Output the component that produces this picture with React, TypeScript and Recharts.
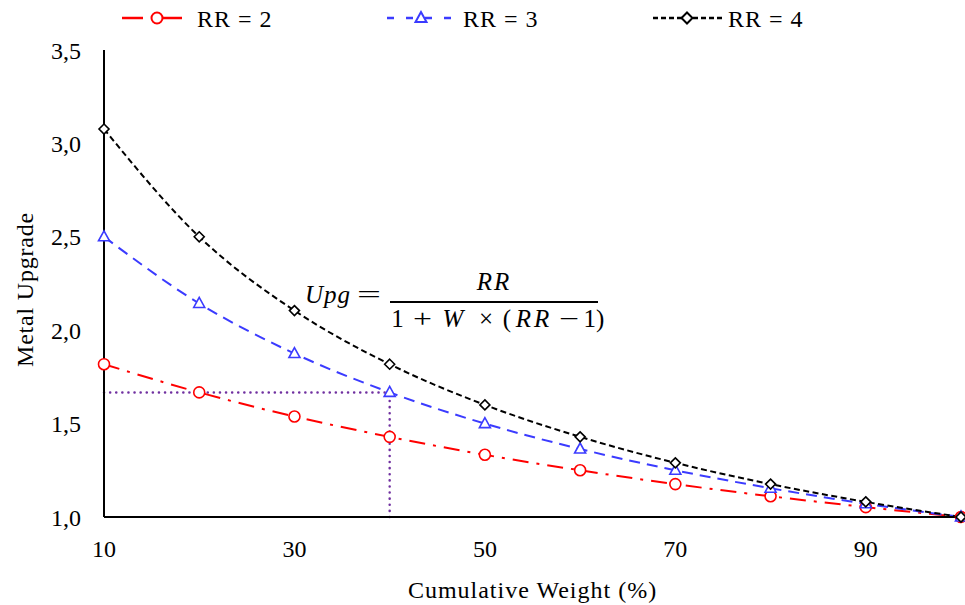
import React from "react";
import { LineChart, Line, XAxis, YAxis, ReferenceLine, Label } from "recharts";

const weights = [10, 20, 30, 40, 50, 60, 70, 80, 90, 100];
const rr2 = [1.818, 1.667, 1.538, 1.429, 1.333, 1.25, 1.176, 1.111, 1.053, 1.0];
const rr3 = [2.5, 2.143, 1.875, 1.667, 1.5, 1.364, 1.25, 1.154, 1.071, 1.0];
const rr4 = [3.077, 2.5, 2.105, 1.818, 1.6, 1.429, 1.29, 1.176, 1.081, 1.0];
const xTicks = [10, 30, 50, 70, 90];
const yTicks = [1.0, 1.5, 2.0, 2.5, 3.0, 3.5];
const seriesNames = ["RR = 2", "RR = 3", "RR = 4"];
const guideX = 40;
const guideY = 1.667;

const data = weights.map((w, i) => ({ w, rr2: rr2[i], rr3: rr3[i], rr4: rr4[i] }));

const FONT = "'Liberation Serif', 'Times New Roman', serif";
const RED = "#FF0000";
const BLUE = "#3B3BFF";
const PURPLE = "#7030A0";

const Circle = (p: any) => (
  <circle cx={p.cx} cy={p.cy} r={5.5} fill="white" stroke={RED} strokeWidth={1.6} />
);
const Tri = (p: any) => (
  <polygon
    points={`${p.cx},${p.cy - 6} ${p.cx - 5.5},${p.cy + 4} ${p.cx + 5.5},${p.cy + 4}`}
    fill="white"
    stroke={BLUE}
    strokeWidth={1.6}
  />
);
const Dia = (p: any) => (
  <polygon
    points={`${p.cx},${p.cy - 5} ${p.cx + 5},${p.cy} ${p.cx},${p.cy + 5} ${p.cx - 5},${p.cy}`}
    fill="white"
    stroke="#000000"
    strokeWidth={1.6}
  />
);

const fmt = (v: number) => v.toFixed(1).replace(".", ",");

const YTitle = (props: any) => {
  const vb = props.viewBox || { x: 44, y: 50, height: 467 };
  const x = vb.x - 11;
  const y = vb.y + vb.height / 2 + 6;
  return (
    <text
      x={x}
      y={y}
      transform={`rotate(-90, ${x}, ${y})`}
      textAnchor="middle"
      fill="#000"
      fontSize={24}
      fontFamily={FONT}
      letterSpacing={0.8}
    >
      Metal Upgrade
    </text>
  );
};

const tstyle = { fontFamily: FONT, fontSize: 24, fill: "#000" } as any;
const fstyle = { fontFamily: FONT, fontSize: 25, fill: "#000" } as any;

export default function App() {
  return (
    <div style={{ position: "absolute", left: 0, top: 0, width: 965, height: 605, background: "white" }}>
      <LineChart width={965} height={605} data={data} margin={{ top: 50, right: 4, left: 44, bottom: 48 }}>
        <XAxis
          dataKey="w"
          type="number"
          domain={[10, 100]}
          ticks={xTicks}
          tickLine={false}
          axisLine={{ stroke: "#000", strokeWidth: 2 }}
          tick={{ fill: "#000", fontSize: 24, fontFamily: FONT }}
          tickMargin={17}
          height={40}
        >
          <Label
            value="Cumulative Weight (%)"
            position="insideBottom"
            offset={-41}
            style={{ fill: "#000", fontSize: 24, fontFamily: FONT, letterSpacing: 1 }}
          />
        </XAxis>
        <YAxis
          type="number"
          domain={[1, 3.5]}
          ticks={yTicks}
          tickFormatter={fmt}
          tickLine={false}
          axisLine={{ stroke: "#000", strokeWidth: 2 }}
          tick={{ fill: "#000", fontSize: 24, fontFamily: FONT }}
          tickMargin={17}
          width={60}
        >
          <Label content={<YTitle />} />
        </YAxis>
        <ReferenceLine
          segment={[{ x: 10, y: guideY }, { x: guideX, y: guideY }]}
          stroke={PURPLE}
          strokeWidth={2.5}
          strokeDasharray="0.1 6"
          strokeLinecap="round"
        />
        <ReferenceLine
          segment={[{ x: guideX, y: 1 }, { x: guideX, y: guideY }]}
          stroke={PURPLE}
          strokeWidth={2.5}
          strokeDasharray="0.1 6"
          strokeLinecap="round"
        />
        <Line type="monotone" dataKey="rr2" name={seriesNames[0]} stroke={RED} strokeWidth={2} strokeDasharray="16 8 3 8" dot={<Circle />} isAnimationActive={false} />
        <Line type="monotone" dataKey="rr3" name={seriesNames[1]} stroke={BLUE} strokeWidth={2} strokeDasharray="11 7" dot={<Tri />} isAnimationActive={false} />
        <Line type="monotone" dataKey="rr4" name={seriesNames[2]} stroke="#000000" strokeWidth={2} strokeDasharray="6 3.5" dot={<Dia />} isAnimationActive={false} />
      </LineChart>
      <svg width={965} height={605} style={{ position: "absolute", left: 0, top: 0, pointerEvents: "none" }}>
        {/* legend */}
        <line x1={122} y1={18} x2={143} y2={18} stroke={RED} strokeWidth={2.5} />
        <line x1={163} y1={18} x2={182} y2={18} stroke={RED} strokeWidth={2.5} />
        <circle cx={157} cy={18} r={5.5} fill="white" stroke={RED} strokeWidth={2} />
        <text x={197} y={27} style={tstyle} letterSpacing={1}>{seriesNames[0]}</text>

        <line x1={387} y1={18} x2={453} y2={18} stroke={BLUE} strokeWidth={2.5} strokeDasharray="7 12" />
        <polygon points="421,12 415.5,22 426.5,22" fill="white" stroke={BLUE} strokeWidth={2} />
        <text x={463} y={27} style={tstyle} letterSpacing={1}>{seriesNames[1]}</text>

        <line x1={653} y1={18} x2={722} y2={18} stroke="#000" strokeWidth={2.5} strokeDasharray="5 3" />
        <polygon points="687,12.5 692.5,18 687,23.5 681.5,18" fill="white" stroke="#000" strokeWidth={2} />
        <text x={728} y={27} style={tstyle} letterSpacing={1}>{seriesNames[2]}</text>

        {/* formula */}
        <text x={328} y={303} style={fstyle} fontStyle="italic" textAnchor="middle" letterSpacing={1}>Upg</text>
        <text x={357} y={303} style={fstyle} textLength={24} lengthAdjust="spacingAndGlyphs">=</text>
        <line x1={390} y1={302} x2={598} y2={302} stroke="#000" strokeWidth={2} />
        <text x={494} y={290} style={fstyle} fontStyle="italic" textAnchor="middle" letterSpacing={2}>RR</text>
        <text x={397.5} y={327} style={fstyle} textAnchor="middle">1</text>
        <text x={413} y={327} style={fstyle} textLength={19} lengthAdjust="spacingAndGlyphs">+</text>
        <text x={453} y={327} style={fstyle} fontStyle="italic" textAnchor="middle">W</text>
        <text x={486} y={327} style={fstyle} textAnchor="middle">×</text>
        <text x={507} y={327} style={fstyle} textAnchor="middle">(</text>
        <text x={534} y={327} style={fstyle} fontStyle="italic" textAnchor="middle" letterSpacing={3}>RR</text>
        <text x={559} y={327} style={fstyle} textLength={20} lengthAdjust="spacingAndGlyphs">−</text>
        <text x={594} y={327} style={fstyle} textAnchor="middle">1)</text>
      </svg>
    </div>
  );
}
